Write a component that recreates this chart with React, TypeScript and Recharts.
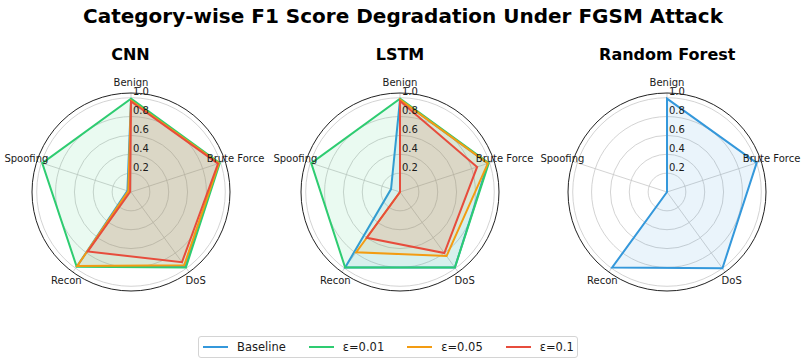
import React from 'react';
import { RadarChart, Radar, PolarGrid, PolarAngleAxis, PolarRadiusAxis } from 'recharts';

// Attack categories (spokes, clockwise from the top)
const categories = ['Benign', 'Brute Force', 'DoS', 'Recon', 'Spoofing'];

// Per-category F1 scores for each model
const cnnBaseline = [0.98, 0.98, 0.98, 0.97, 0.04];
const cnnEps001 = [0.99, 0.99, 0.99, 0.98, 0.99];
const cnnEps005 = [0.97, 0.98, 0.96, 0.97, 0.03];
const cnnEps01 = [0.96, 0.97, 0.92, 0.78, 0.01];

const lstmBaseline = [0.98, 0.98, 0.99, 0.99, 0.1];
const lstmEps001 = [0.99, 0.99, 0.99, 0.99, 0.99];
const lstmEps005 = [0.98, 0.98, 0.84, 0.79, 0.0];
const lstmEps01 = [0.965, 0.86, 0.8, 0.6, 0.0];

const rfBaseline = [0.99, 1.0, 1.0, 0.99, 0.0];

const radiusTicks = [0.2, 0.4, 0.6, 0.8, 1.0];

const seriesNames = ['Baseline', 'ε=0.01', 'ε=0.05', 'ε=0.1'];
const seriesKeys = ['baseline', 'eps001', 'eps005', 'eps01'];
const seriesColors = ['#3498db', '#2ecc71', '#f39c12', '#e74c3c'];

type Panel = { title: string; centerX: number; series: (number[] | null)[] };

const panels: Panel[] = [
  { title: 'CNN', centerX: 130.5, series: [cnnBaseline, cnnEps001, cnnEps005, cnnEps01] },
  { title: 'LSTM', centerX: 400, series: [lstmBaseline, lstmEps001, lstmEps005, lstmEps01] },
  { title: 'Random Forest', centerX: 667.3, series: [rfBaseline, null, null, null] },
];

const FONT = 'DejaVu Sans, sans-serif';
const CENTER_Y = 191.7;
const BOX_W = 290;
const BOX_H = 260;
const OUTER = 99;

function buildRows(series: (number[] | null)[]) {
  return categories.map((category, i) => {
    const row: Record<string, string | number> = { category };
    series.forEach((s, k) => {
      if (s) row[seriesKeys[k]] = s[i];
    });
    return row;
  });
}

const AngleTick = (props: any) => {
  const { x, y, payload } = props;
  return (
    <text x={x} y={y} textAnchor="middle" dominantBaseline="central" fontSize={10} fill="#1a1a1a" fontFamily={FONT}>
      {payload.value}
    </text>
  );
};

const RadiusTick = (props: any) => {
  const { x, y, payload } = props;
  return (
    <text x={x + 2} y={y - 6} textAnchor="start" dominantBaseline="central" fontSize={10} fill="#1a1a1a" fontFamily={FONT}>
      {Number(payload.value).toFixed(1)}
    </text>
  );
};

function PanelChart({ panel }: { panel: Panel }) {
  const rows = buildRows(panel.series);
  return (
    <div style={{ position: 'absolute', left: panel.centerX - BOX_W / 2, top: CENTER_Y - BOX_H / 2 }}>
      <RadarChart
        width={BOX_W}
        height={BOX_H}
        data={rows}
        cx={BOX_W / 2}
        cy={BOX_H / 2}
        outerRadius={OUTER}
        margin={{ top: 0, right: 0, bottom: 0, left: 0 }}
        startAngle={90}
        endAngle={-270}
      >
        <PolarGrid gridType="circle" stroke="#c8c8c8" strokeWidth={0.8} />
        <PolarAngleAxis
          dataKey="category"
          tick={AngleTick}
          tickLine={false}
          tickSize={11}
          axisLineType="circle"
          axisLine={{ stroke: '#222', strokeWidth: 1 }}
        />
        <PolarRadiusAxis
          angle={90}
          domain={[0, 1.05]}
          ticks={radiusTicks}
          tick={RadiusTick}
          axisLine={false}
          tickLine={false}
        />
        {panel.series.map((s, k) =>
          s ? (
            <Radar
              key={seriesKeys[k]}
              name={seriesNames[k]}
              dataKey={seriesKeys[k]}
              stroke={seriesColors[k]}
              strokeWidth={2}
              fill={seriesColors[k]}
              fillOpacity={0.1}
              dot={false}
              isAnimationActive={false}
            />
          ) : null
        )}
      </RadarChart>
    </div>
  );
}

export default function App() {
  return (
    <div style={{ position: 'absolute', left: 0, top: 0, width: 808, height: 364, background: '#fff', fontFamily: FONT }}>
      <svg width={808} height={364} style={{ position: 'absolute', left: 0, top: 0 }}>
        <text x={403} y={23} textAnchor="middle" fontSize={20} fontWeight="bold" fill="#000" fontFamily={FONT}>
          Category-wise F1 Score Degradation Under FGSM Attack
        </text>
        {panels.map((p) => (
          <text key={p.title} x={p.centerX} y={60} textAnchor="middle" fontSize={16} fontWeight="bold" fill="#000" fontFamily={FONT}>
            {p.title}
          </text>
        ))}
      </svg>
      {panels.map((p) => (
        <PanelChart key={p.title} panel={p} />
      ))}
      <div
        style={{
          position: 'absolute',
          left: 198,
          top: 336,
          width: 380,
          height: 22,
          boxSizing: 'border-box',
          border: '1px solid #d4d4d4',
          borderRadius: 3,
          display: 'flex',
          alignItems: 'center',
          paddingLeft: 4,
          fontSize: 11.5,
          color: '#1a1a1a',
        }}
      >
        {seriesNames.map((name, k) => (
          <div key={name} style={{ display: 'flex', alignItems: 'center', marginRight: k < seriesNames.length - 1 ? 23 : 0 }}>
            <div style={{ width: 25, height: 2, background: seriesColors[k], marginRight: 9 }} />
            <span style={{ lineHeight: '14px' }}>{name}</span>
          </div>
        ))}
      </div>
    </div>
  );
}
